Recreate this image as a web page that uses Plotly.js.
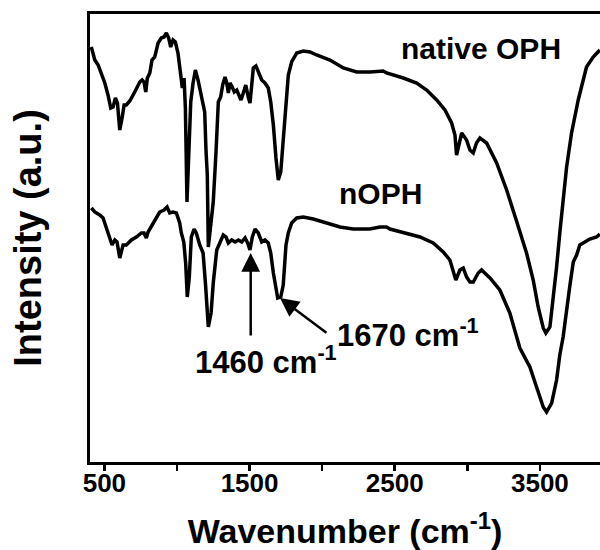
<!DOCTYPE html>
<html>
<head>
<meta charset="utf-8">
<script src="https://cdn.plot.ly/plotly-3.0.1.min.js"></script>
<style>html,body{margin:0;padding:0;background:#fff}#chart{width:600px;height:550px}</style>
</head>
<body>
<div id="chart"></div>
<script>
// native OPH spectrum (wavenumber, intensity a.u.)
const nativeWn = [410,434,457,479,503,525,544,560,576,590,606,622,636,651,675,709,744,760,773,785,796,813,828,847,870,892,911,927,943,957,973,989,1007,1026,1037,1049,1058,1069,1083,1095,1111,1127,1145,1168,1191,1200,1209,1216,1235,1250,1269,1285,1301,1315,1331,1343,1354,1365,1381,1395,1412,1429,1441,1457,1474,1491,1503,1515,1526,1544,1560,1584,1606,1629,1646,1664,1682,1698,1715,1732,1751,1767,1790,1825,1870,1916,1962,2054,2146,2238,2329,2421,2444,2559,2651,2720,2789,2846,2892,2915,2926,2942,2961,2995,3018,3041,3063,3087,3133,3202,3271,3339,3408,3454,3488,3523,3541,3569,3591,3615,3637,3660,3684,3718,3764,3821,3867,3913];
const nativeI  = [415,402,397,389,379,367,354,355,364,359,332,344,357,357,361,370,380,382,380,370,384,389,402,405,419,424,425,429,424,415,422,420,409,387,374,384,354,260,304,360,379,392,382,364,350,312,287,215,237,260,310,360,365,377,385,379,369,379,375,370,372,367,362,369,377,365,359,377,394,396,390,382,379,374,360,337,304,282,290,320,364,387,400,409,411,410,407,402,394,390,390,391,389,384,379,372,362,352,339,327,307,317,329,322,312,309,319,324,319,299,272,241,209,182,155,134,129,135,162,195,229,262,295,329,362,395,405,412];
// nOPH spectrum (wavenumber, intensity a.u.)
const nophWn = [410,434,468,491,514,537,553,572,587,606,629,651,686,720,755,773,789,801,828,858,881,911,932,950,973,996,1019,1030,1047,1060,1071,1085,1099,1118,1133,1157,1180,1197,1216,1235,1250,1274,1297,1319,1338,1354,1377,1400,1423,1446,1469,1487,1503,1519,1538,1560,1584,1606,1629,1646,1664,1682,1694,1715,1732,1751,1767,1790,1825,1870,1939,2031,2123,2214,2329,2398,2444,2467,2582,2674,2765,2834,2880,2903,2921,2949,2972,2995,3018,3041,3075,3098,3156,3224,3293,3362,3431,3477,3523,3546,3581,3615,3637,3660,3684,3707,3730,3753,3775,3798,3844,3890,3913];
const nophI  = [254,250,247,244,234,224,217,222,220,204,217,217,222,225,229,229,224,230,237,245,250,252,255,249,250,249,239,229,220,199,165,185,225,233,229,217,209,177,135,149,179,212,219,227,225,219,222,220,222,220,224,219,212,225,233,229,220,222,219,209,189,172,164,165,177,217,229,239,244,245,243,239,235,233,233,235,235,233,229,225,219,210,202,192,182,192,194,185,180,180,189,192,184,172,149,114,95,75,55,50,59,82,107,125,154,177,200,207,217,219,223,225,228];
const xTickVals = [500,1500,2500,3500];
const xTickText = ['500','1500','2500','3500'];

const FONT = '"Liberation Sans", Arial, sans-serif';
const lineStyle = {color:'#000', width:3.5};

const traces = [
  {x: nativeWn, y: nativeI, mode:'lines', line: lineStyle, name:'native OPH', hoverinfo:'skip'},
  {x: nophWn, y: nophI, mode:'lines', line: lineStyle, name:'nOPH', hoverinfo:'skip'}
];

const bold = (s) => ({family: FONT, size: s, color:'#000', weight:'bold'});

const layout = {
  width:600, height:550,
  margin:{l:90, r:0, t:14, b:88},
  paper_bgcolor:'#fff', plot_bgcolor:'#fff',
  showlegend:false,
  xaxis:{
    range:[401, 3914],
    showgrid:false, zeroline:false,
    showline:true, linecolor:'#000', linewidth:3, mirror:true,
    ticks:'outside', ticklen:6, tickwidth:2.5, tickcolor:'#000',
    tickvals:xTickVals, ticktext:xTickText,
    tickfont: bold(26), ticklabelstandoff:-10,
    minor:{tickvals:[1000,2000,3000], ticks:'outside', ticklen:6, tickwidth:2.5, tickcolor:'#000'},
    title:{text:'Wavenumber (cm<sup>-1</sup>)', font: bold(34), standoff:28}
  },
  yaxis:{
    range:[0, 448],
    showgrid:false, zeroline:false,
    showline:true, linecolor:'#000', linewidth:3,
    ticks:'', showticklabels:false,
    title:{text:'Intensity (a.u.)', font: bold(38), standoff:34}
  },
  annotations:[
    {x:3094, y:414, xref:'x', yref:'y', text:'native OPH', showarrow:false, font: bold(30), xanchor:'center', yanchor:'middle'},
    {x:2399, y:269, xref:'x', yref:'y', text:'nOPH', showarrow:false, font: bold(30), xanchor:'center', yanchor:'middle'},
    {x:2088, y:129, xref:'x', yref:'y', text:'1670 cm<sup>-1</sup>', showarrow:false, font: bold(31), xanchor:'left', yanchor:'middle'},
    {x:1111, y:102, xref:'x', yref:'y', text:'1460 cm<sup>-1</sup>', showarrow:false, font: bold(31), xanchor:'left', yanchor:'middle'},
    {x:1508, y:209, xref:'x', yref:'y', ax:1508, ay:125, axref:'x', ayref:'y', text:'', showarrow:true, arrowhead:2, arrowsize:1.5, arrowwidth:2.5, arrowcolor:'#000'},
    {x:1710, y:164, xref:'x', yref:'y', ax:2040, ay:128, axref:'x', ayref:'y', text:'', showarrow:true, arrowhead:2, arrowsize:1.5, arrowwidth:2.5, arrowcolor:'#000'}
  ]
};

Plotly.newPlot('chart', traces, layout, {staticPlot:true, displayModeBar:false});
</script>
</body>
</html>
